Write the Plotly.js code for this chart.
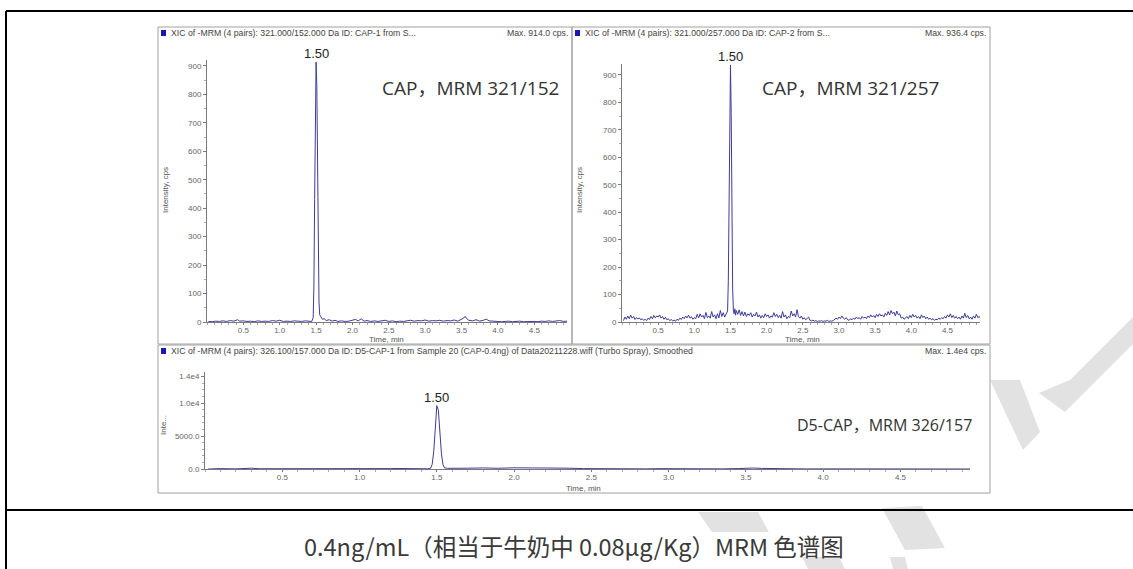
<!DOCTYPE html>
<html><head><meta charset="utf-8">
<script src="https://cdn.plot.ly/plotly-3.0.1.min.js"></script>
<style>html,body{margin:0;padding:0;background:#fff;overflow:hidden}#chart{width:1133px;height:569px}</style>
</head><body><div id="chart"></div>
<script>
// ---------- data (time, min / intensity, cps) ----------
const capA = [[0.02,2],[0.07,1],[0.12,3],[0.17,2],[0.22,4],[0.27,2],[0.32,5],[0.37,3],[0.42,8],[0.45,3],[0.50,4],[0.55,2],[0.60,3],[0.65,1],[0.70,4],[0.75,2],[0.80,3],[0.85,2],[0.90,5],[0.95,3],[1.00,6],[1.05,2],[1.10,3],[1.15,2],[1.20,4],[1.25,3],[1.30,2],[1.35,4],[1.40,3],[1.44,2],[1.46,15],[1.47,130],[1.48,430],[1.49,790],[1.50,914],[1.51,830],[1.52,520],[1.53,230],[1.54,70],[1.55,25],[1.57,14],[1.59,9],[1.61,12],[1.64,5],[1.68,8],[1.72,3],[1.76,6],[1.80,2],[1.85,4],[1.90,2],[1.95,3],[2.00,5],[2.04,9],[2.08,4],[2.12,11],[2.16,3],[2.20,5],[2.25,2],[2.30,4],[2.35,2],[2.40,3],[2.45,6],[2.50,2],[2.55,4],[2.60,1],[2.65,3],[2.70,2],[2.75,4],[2.80,6],[2.85,3],[2.90,5],[2.95,4],[3.00,7],[3.05,3],[3.10,5],[3.15,4],[3.20,6],[3.25,3],[3.30,5],[3.35,4],[3.40,7],[3.45,3],[3.50,9],[3.53,14],[3.55,20],[3.57,12],[3.60,6],[3.65,4],[3.70,8],[3.75,3],[3.80,6],[3.84,10],[3.88,4],[3.92,3],[3.96,2],[4.00,3],[4.05,1],[4.10,2],[4.15,3],[4.20,1],[4.25,2],[4.30,3],[4.35,1],[4.40,2],[4.45,3],[4.50,2],[4.55,1],[4.60,3],[4.65,2],[4.70,4],[4.75,2],[4.80,3],[4.85,5],[4.90,2],[4.95,3]];

const capB = [[0.02,5],[0.04,18],[0.06,10],[0.08,22],[0.10,12],[0.12,25],[0.14,14],[0.16,20],[0.18,9],[0.20,16],[0.22,11],[0.24,15],[0.26,8],[0.28,12],[0.30,6],[0.32,10],[0.34,5],[0.36,14],[0.38,9],[0.40,20],[0.42,12],[0.44,24],[0.46,15],[0.48,22],[0.50,18],[0.52,26],[0.54,14],[0.56,20],[0.58,10],[0.60,17],[0.62,8],[0.64,12],[0.66,5],[0.68,9],[0.70,4],[0.72,7],[0.74,3],[0.76,10],[0.78,6],[0.80,14],[0.82,9],[0.84,18],[0.86,12],[0.88,22],[0.90,15],[0.92,25],[0.94,14],[0.96,19],[0.98,10],[1.00,16],[1.02,12],[1.04,28],[1.06,15],[1.08,30],[1.10,18],[1.12,24],[1.14,12],[1.16,35],[1.18,16],[1.20,22],[1.22,14],[1.24,38],[1.26,18],[1.28,26],[1.30,12],[1.32,30],[1.34,15],[1.36,42],[1.38,20],[1.40,34],[1.42,18],[1.44,28],[1.46,40],[1.47,150],[1.48,480],[1.49,820],[1.50,936],[1.51,760],[1.52,380],[1.53,120],[1.54,45],[1.55,30],[1.56,48],[1.57,25],[1.58,42],[1.60,28],[1.62,44],[1.64,24],[1.66,38],[1.68,22],[1.70,36],[1.72,20],[1.74,30],[1.76,24],[1.78,34],[1.80,18],[1.82,28],[1.84,22],[1.86,36],[1.88,18],[1.90,26],[1.92,14],[1.94,24],[1.96,16],[1.98,30],[2.00,20],[2.02,26],[2.04,14],[2.06,22],[2.08,18],[2.10,34],[2.12,20],[2.14,28],[2.16,16],[2.18,24],[2.20,14],[2.22,38],[2.24,18],[2.26,26],[2.28,12],[2.30,20],[2.32,16],[2.34,40],[2.36,22],[2.38,30],[2.40,18],[2.42,45],[2.44,20],[2.46,14],[2.48,22],[2.50,10],[2.52,16],[2.54,8],[2.56,12],[2.58,18],[2.60,6],[2.62,4],[2.64,7],[2.66,3],[2.68,5],[2.70,2],[2.72,4],[2.74,3],[2.76,5],[2.78,2],[2.80,4],[2.82,3],[2.84,6],[2.86,2],[2.88,4],[2.90,3],[2.92,5],[2.94,8],[2.96,14],[2.98,10],[3.00,18],[3.02,12],[3.04,22],[3.06,14],[3.08,10],[3.10,16],[3.12,8],[3.14,6],[3.16,12],[3.18,8],[3.20,14],[3.22,10],[3.24,18],[3.26,12],[3.28,16],[3.30,10],[3.32,20],[3.34,14],[3.36,18],[3.38,12],[3.40,22],[3.42,16],[3.44,26],[3.46,18],[3.48,24],[3.50,16],[3.52,28],[3.54,20],[3.56,30],[3.58,22],[3.60,26],[3.62,18],[3.64,32],[3.66,24],[3.68,38],[3.70,26],[3.72,42],[3.74,30],[3.76,36],[3.78,22],[3.80,40],[3.82,26],[3.84,30],[3.86,14],[3.88,18],[3.90,10],[3.92,14],[3.94,20],[3.96,12],[3.98,24],[4.00,16],[4.02,28],[4.04,18],[4.06,24],[4.08,14],[4.10,20],[4.12,12],[4.14,26],[4.16,16],[4.18,22],[4.20,12],[4.22,18],[4.24,10],[4.26,14],[4.28,8],[4.30,12],[4.32,6],[4.34,10],[4.36,8],[4.38,14],[4.40,10],[4.42,16],[4.44,12],[4.46,20],[4.48,14],[4.50,26],[4.52,18],[4.54,30],[4.56,16],[4.58,24],[4.60,14],[4.62,20],[4.64,12],[4.66,18],[4.68,10],[4.70,22],[4.72,14],[4.74,32],[4.76,16],[4.78,24],[4.80,12],[4.82,18],[4.84,10],[4.86,22],[4.88,14],[4.90,28],[4.92,16],[4.94,20],[4.96,12]];

const d5cap = [[0.02,0],[0.10,60],[0.20,20],[0.30,120],[0.35,40],[0.45,30],[0.55,10],[0.65,20],[0.75,10],[0.85,90],[0.90,30],[1.00,20],[1.10,10],[1.20,60],[1.25,80],[1.30,40],[1.38,20],[1.44,30],[1.46,120],[1.47,700],[1.48,2600],[1.49,6500],[1.50,9600],[1.51,8900],[1.52,5600],[1.53,2300],[1.54,650],[1.55,160],[1.57,100],[1.62,140],[1.70,120],[1.80,160],[1.90,110],[2.00,180],[2.05,130],[2.12,160],[2.20,150],[2.28,170],[2.35,120],[2.45,60],[2.55,30],[2.65,20],[2.75,10],[2.85,20],[2.95,50],[3.05,20],[3.15,10],[3.25,30],[3.35,20],[3.45,60],[3.50,120],[3.55,150],[3.60,90],[3.70,30],[3.80,20],[3.90,10],[4.00,20],[4.10,10],[4.20,30],[4.30,10],[4.40,20],[4.50,10],[4.60,30],[4.70,10],[4.80,20],[4.90,10],[4.95,0]];

const xTickVals = [0.5,1.0,1.5,2.0,2.5,3.0,3.5,4.0,4.5];
const xTickText = ["0.5","1.0","1.5","2.0","2.5","3.0","3.5","4.0","4.5"];
const yTickValsTop = [0,100,200,300,400,500,600,700,800,900];
const yTickValsBot = [0,5000,10000,14000];
const yTickTextBot = ["0.0","5000.0","1.0e4","1.4e4"];
const peakRT = [1.50, 1.50, 1.50];
const peakLabels = ["1.50","1.50","1.50"];
const peakMax = [914, 936.4, 9600];
const thresholds = [225, 361, 2120];
const headers = [
  "XIC of -MRM (4 pairs): 321.000/152.000 Da ID: CAP-1 from S...",
  "XIC of -MRM (4 pairs): 321.000/257.000 Da ID: CAP-2 from S...",
  "XIC of -MRM (4 pairs): 326.100/157.000 Da ID: D5-CAP-1 from Sample 20 (CAP-0.4ng) of Data20211228.wiff (Turbo Spray), Smoothed"
];
const maxTexts = ["Max. 914.0 cps.","Max. 936.4 cps.","Max. 1.4e4 cps."];
const panelLabels = ["CAP，MRM 321/152","CAP，MRM 321/257","D5-CAP，MRM 326/157"];
const caption = "0.4ng/mL（相当于牛奶中 0.08μg/Kg）MRM 色谱图";

// ---------- layout helpers ----------
const W = 1133, H = 569;
const fx = p => p / W;
const fy = p => 1 - p / H;
const LINE = '#3c3c9c';
const AX = '#7a7a7a';
const TF = {family:'Liberation Sans, Arial, sans-serif', size:8, color:'#666'};

function xAxis(l, r, anchor) {
  return {domain:[fx(l), fx(r)], range:[0, 4.95], anchor:anchor, showline:true, linecolor:AX, linewidth:1,
    ticks:'outside', ticklen:2, tickcolor:AX, tickwidth:1, tickmode:'array', tickvals:xTickVals, ticktext:xTickText,
    tickfont:TF, ticklabelstandoff:-2, showgrid:false, zeroline:false, fixedrange:true,
    minor:{tickmode:'linear', tick0:0, dtick:0.1, ticks:'outside', ticklen:2, tickcolor:'#aaa'}};
}
function yAxis(b, t, range, anchor, vals, text, minorD) {
  const a = {domain:[fy(b), fy(t)], range:range, anchor:anchor, showline:true, linecolor:AX, linewidth:1,
    ticks:'outside', ticklen:3, tickcolor:AX, tickwidth:1, tickmode:'array', tickvals:vals,
    tickfont:TF, showgrid:false, zeroline:false, fixedrange:true,
    minor:{tickmode:'linear', tick0:0, dtick:minorD, ticks:'outside', ticklen:2, tickcolor:'#aaa'}};
  if (text) a.ticktext = text;
  return a;
}

const series = [capA, capB, d5cap];
const axes = [['x','y'],['x2','y2'],['x3','y3']];
const thrX = [-0.035, -0.035, -0.018];

const traces = [];
series.forEach((s, i) => {
  traces.push({type:'scatter', mode:'lines', x:s.map(p=>p[0]), y:s.map(p=>p[1]),
    xaxis:axes[i][0], yaxis:axes[i][1], line:{color:LINE, width:1}, hoverinfo:'skip', showlegend:false});
  traces.push({type:'scatter', mode:'markers', x:[thrX[i]], y:[thresholds[i]], xaxis:axes[i][0], yaxis:axes[i][1],
    marker:{symbol:'triangle-right', size:7, color:'#1c1ca0'}, cliponaxis:false, hoverinfo:'skip', showlegend:false});
});

const shapes = [];
// light grey watermark pieces (pixel polygons)
const watermark = [
  [[990,380],[1020,380],[1040,432],[1023,450]],
  [[1039,393],[1065,412],[1133,344],[1133,317],[1070,380]],
  [[882,508],[922,506],[945,548],[905,550]],
  [[802,557],[839,557],[845,569],[808,569]],
  [[890,557],[905,557],[908,569],[893,569]],
  [[698,512],[758,512],[769,532],[712,532]]
];
watermark.forEach(poly => {
  const d = poly.map((p, k) => (k ? 'L' : 'M') + fx(p[0]).toFixed(5) + ',' + fy(p[1]).toFixed(5)).join(' ') + ' Z';
  shapes.push({type:'path', xref:'paper', yref:'paper', path:d, fillcolor:'#e2e2e2', line:{width:0}, layer:'below'});
});
// panel geometry (pixels)
const boxes = [[158,27,572,344],[572,27,990,344],[158,345,990,493]];
boxes.forEach(b => {
  shapes.push({type:'rect', xref:'paper', yref:'paper', x0:fx(b[0]), x1:fx(b[2]), y0:fy(b[3]), y1:fy(b[1]),
    line:{color:'#a0a0a0', width:1}, fillcolor:'rgba(0,0,0,0)', layer:'below'});
  shapes.push({type:'rect', xref:'paper', yref:'paper', x0:fx(b[0]+3), x1:fx(b[0]+8), y0:fy(b[1]+9), y1:fy(b[1]+3),
    line:{width:0}, fillcolor:'#1818b4'});
});
// document table lines
shapes.push({type:'line', xref:'paper', yref:'paper', x0:fx(6), x1:fx(1133), y0:fy(11), y1:fy(11), line:{color:'#000', width:2}});
shapes.push({type:'line', xref:'paper', yref:'paper', x0:fx(6), x1:fx(6), y0:fy(11), y1:fy(569), line:{color:'#000', width:2}});
shapes.push({type:'line', xref:'paper', yref:'paper', x0:fx(6), x1:fx(1133), y0:fy(510), y1:fy(510), line:{color:'#000', width:2}});

const ann = [];
const hdrY = [33, 33, 351];
const hdrL = [169, 583, 169];
const hdrR = [570, 988, 988];
const HF = {family:'Liberation Sans, Arial, sans-serif', size:8.7, color:'#444'};
headers.forEach((h, i) => {
  ann.push({xref:'paper', yref:'paper', x:fx(hdrL[i]), y:fy(hdrY[i]), text:h, showarrow:false, xanchor:'left', yanchor:'middle', font:HF});
  ann.push({xref:'paper', yref:'paper', x:fx(hdrR[i]), y:fy(hdrY[i]), text:maxTexts[i], showarrow:false, xanchor:'right', yanchor:'middle', font:HF});
});
peakRT.forEach((rt, i) => {
  ann.push({xref:axes[i][0], yref:axes[i][1], x:rt, y:peakMax[i], text:peakLabels[i], showarrow:false, yanchor:'bottom', yshift:-1,
    font:{family:'Liberation Sans, Arial, sans-serif', size:13, color:'#222'}});
});
const labPos = [[380,88,19],[760,88,19],[795,425,16]];
panelLabels.forEach((t, i) => {
  ann.push({xref:'paper', yref:'paper', x:fx(labPos[i][0]), y:fy(labPos[i][1]), text:t, showarrow:false, xanchor:'left', yanchor:'middle',
    font:{family:'Open Sans, Noto Sans CJK SC, sans-serif', size:labPos[i][2], color:'#333'}});
});
const yTitles = [["Intensity, cps",165,190],["Intensity, cps",579,190],["Inte...",163,425]];
yTitles.forEach(t => ann.push({xref:'paper', yref:'paper', x:fx(t[1]), y:fy(t[2]), text:t[0], textangle:-90, showarrow:false,
  xanchor:'center', yanchor:'middle', font:{family:'Liberation Sans, Arial, sans-serif', size:8, color:'#555'}}));
const xTitles = [[386,339],[802,339],[583,488]];
xTitles.forEach(t => ann.push({xref:'paper', yref:'paper', x:fx(t[0]), y:fy(t[1]), text:"Time, min", showarrow:false,
  xanchor:'center', yanchor:'middle', font:{family:'Liberation Sans, Arial, sans-serif', size:8, color:'#555'}}));
ann.push({xref:'paper', yref:'paper', x:fx(574), y:fy(546), text:caption, showarrow:false, xanchor:'center', yanchor:'middle',
  font:{family:'Noto Sans CJK SC, sans-serif', size:23.5, color:'#3a3a3a'}});

const layout = {
  width:W, height:H, margin:{l:0,r:0,t:0,b:0}, paper_bgcolor:'#fff', plot_bgcolor:'rgba(0,0,0,0)', showlegend:false,
  xaxis: xAxis(207, 567, 'y'),
  yaxis: yAxis(322, 60, [0, 921], 'x', yTickValsTop, null, 50),
  xaxis2: xAxis(622, 980, 'y2'),
  yaxis2: yAxis(322, 64, [0, 940], 'x2', yTickValsTop, null, 50),
  xaxis3: xAxis(205, 970, 'y3'),
  yaxis3: yAxis(469, 372, [0, 14700], 'x3', yTickValsBot, yTickTextBot, 1000),
  shapes:shapes, annotations:ann
};
Plotly.newPlot('chart', traces, layout, {staticPlot:true, displayModeBar:false});
</script></body></html>
